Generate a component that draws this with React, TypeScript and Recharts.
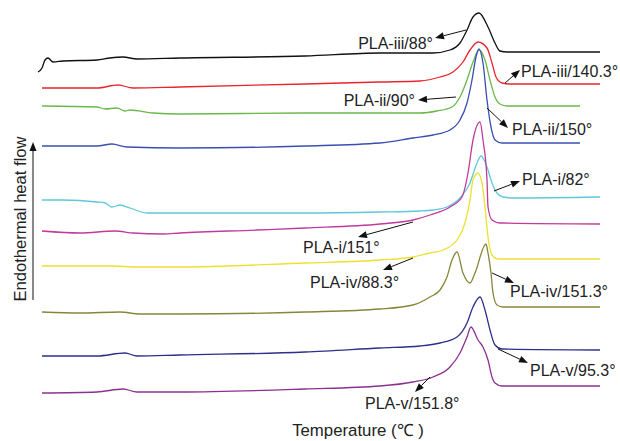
import { LineChart, Line, XAxis, YAxis, ReferenceLine, ReferenceDot } from "recharts"

// Temperature (°C) samples and heat flow (a.u., stacked offsets) for each DSC trace
const iii88Temp = [29.5, 30.5, 31.25, 32, 33.25, 35.75, 44.25, 47.5, 50.75, 54.25, 65, 96.25, 115, 128.25, 132.5, 135, 136.75, 138.25, 139.75, 142, 143.75, 145, 146.75, 170]
const iii88Flow = [36.9, 37.3, 38.1, 38.3, 37.9, 38.0, 38.1, 38.3, 38.4, 38.2, 38.3, 38.5, 38.8, 38.8, 39.1, 39.8, 41.1, 42.4, 42.8, 41.4, 39.8, 39.0, 38.9, 38.9]

const iii140Temp = [30.5, 44.25, 49.5, 53.25, 65, 96.25, 115, 125, 130, 133.25, 135.75, 137.5, 139.5, 141.75, 143, 144, 145.5, 147.5, 170]
const iii140Flow = [35.3, 35.3, 35.6, 35.3, 35.4, 35.7, 35.9, 36.0, 36.4, 36.9, 37.9, 39.1, 39.9, 39.3, 37.8, 36.4, 35.8, 35.7, 35.7]

const ii90Temp = [30.5, 44.25, 46.25, 49.25, 51.25, 52.5, 58.25, 65, 96.25, 115, 125, 129.25, 133, 135, 136.75, 138.25, 139.75, 141.25, 142.5, 143.75, 145, 146.75, 165]
const ii90Flow = [33.5, 33.4, 33.2, 33.3, 33.0, 33.1, 32.8, 32.7, 32.8, 32.8, 32.8, 33.0, 33.4, 34.4, 36.1, 37.9, 39.1, 38.1, 36.1, 34.4, 33.7, 33.5, 33.5]

const ii150Temp = [30.5, 44.25, 48, 51.75, 65, 96.25, 115, 123.25, 128.25, 132.5, 135, 136.75, 138, 139, 139.75, 140.75, 141.75, 142.75, 143.75, 145.5, 165]
const ii150Flow = [29.5, 29.5, 29.7, 29.4, 29.3, 29.5, 29.8, 30.3, 30.6, 31.1, 32.1, 33.8, 36.1, 38.4, 39.2, 37.8, 34.1, 31.4, 30.1, 29.8, 29.8]

const i82Temp = [30.5, 35.75, 44.25, 46.25, 48, 50, 52.5, 56.75, 65, 96.25, 115, 125, 128.25, 131.75, 135, 137.5, 139.25, 140.25, 141.75, 143, 144.25, 145.75, 148.25, 170]
const i82Flow = [24.1, 24.1, 23.9, 23.8, 23.4, 23.6, 23.3, 22.8, 22.8, 22.8, 22.9, 23.0, 23.1, 23.4, 24.3, 25.8, 27.8, 28.5, 27.4, 25.8, 24.8, 24.4, 24.3, 24.4]

const i151Temp = [30.5, 40, 48.75, 53.25, 60.75, 65, 84.25, 96.25, 115, 123.25, 127.5, 132.5, 135.5, 137, 138.25, 140, 140.75, 141.75, 142, 143, 145, 170]
const i151Flow = [21.0, 20.8, 21.0, 20.8, 20.7, 20.8, 21.1, 21.3, 21.7, 22.1, 22.6, 23.4, 24.4, 26.8, 30.1, 31.9, 30.1, 26.1, 23.4, 22.1, 21.8, 21.7]

const iv88Temp = [30.5, 48.25, 54.25, 65, 96.25, 115, 123.25, 127.5, 130.75, 134.25, 136.25, 137.5, 138.25, 139.5, 140.5, 141.25, 142, 143, 144.5, 170]
const iv88Flow = [17.5, 17.5, 17.4, 17.4, 17.8, 18.1, 18.4, 18.8, 19.1, 20.1, 21.8, 24.1, 26.1, 26.8, 25.8, 23.4, 20.4, 18.6, 18.2, 18.2]

const iv151Temp = [30.5, 40, 50, 55, 65, 96.25, 115, 123.25, 127.5, 130, 131.75, 133, 134.25, 135.75, 137.5, 138.75, 141.5, 142, 142.75, 143.25, 144.25, 145.75, 170]
const iv151Flow = [12.9, 12.8, 12.9, 12.7, 12.7, 12.9, 13.2, 13.6, 14.4, 15.1, 16.4, 18.1, 18.9, 16.8, 15.8, 16.8, 19.7, 18.8, 16.8, 14.8, 13.6, 13.4, 13.4]

const v95Temp = [30.5, 44.25, 51.25, 54.25, 65, 96.25, 115, 125, 130, 134.25, 136.75, 138.25, 140, 141.25, 142.5, 143.75, 145.5, 170]
const v95Flow = [8.5, 8.5, 8.8, 8.5, 8.6, 8.9, 9.3, 9.5, 9.8, 10.4, 11.8, 13.4, 14.4, 13.1, 11.1, 9.6, 9.2, 9.1]

const v151Temp = [30.5, 44.25, 50.75, 54.25, 65, 96.25, 115, 123.25, 128.25, 132.5, 135, 136.75, 137.75, 139.5, 140.75, 142, 143, 143.75, 145.5, 170]
const v151Flow = [4.8, 4.9, 5.2, 4.9, 4.9, 5.2, 5.5, 5.9, 6.4, 7.4, 8.8, 10.4, 11.4, 10.1, 9.4, 8.1, 6.4, 5.8, 5.5, 5.5]

const toRows = (temp: number[], flow: number[]) => temp.map((t, i) => ({ t, q: flow[i] }))

const traces = [
  { name: "PLA-iii/88°", color: "#111111", data: toRows(iii88Temp, iii88Flow) },
  { name: "PLA-iii/140.3°", color: "#e8262e", data: toRows(iii140Temp, iii140Flow) },
  { name: "PLA-ii/90°", color: "#6ab84a", data: toRows(ii90Temp, ii90Flow) },
  { name: "PLA-ii/150°", color: "#3a4fb0", data: toRows(ii150Temp, ii150Flow) },
  { name: "PLA-i/82°", color: "#5ec8d8", data: toRows(i82Temp, i82Flow) },
  { name: "PLA-i/151°", color: "#c23a9c", data: toRows(i151Temp, i151Flow) },
  { name: "PLA-iv/88.3°", color: "#eee030", data: toRows(iv88Temp, iv88Flow) },
  { name: "PLA-iv/151.3°", color: "#86863a", data: toRows(iv151Temp, iv151Flow) },
  { name: "PLA-v/95.3°", color: "#2c3088", data: toRows(v95Temp, v95Flow) },
  { name: "PLA-v/151.8°", color: "#8c3090", data: toRows(v151Temp, v151Flow) },
]

// callouts: arrow from the trace to the label, then label anchor
const notes = [
  { text: "PLA-iii/88°", from: [136.5, 41.1], to: [128.75, 40.3], at: [128.25, 39.2], anchor: "end" },
  { text: "PLA-iii/140.3°", from: [146.25, 35.8], to: [150, 37.1], at: [150.25, 36.4], anchor: "start" },
  { text: "PLA-ii/90°", from: [134, 34.4], to: [124.5, 34.1], at: [123.75, 33.5], anchor: "end" },
  { text: "PLA-ii/150°", from: [141.75, 33.3], to: [147, 31.3], at: [148, 30.6], anchor: "start" },
  { text: "PLA-i/82°", from: [143.5, 25.0], to: [150, 26.0], at: [150.5, 25.6], anchor: "start" },
  { text: "PLA-i/151°", from: [123.25, 21.9], to: [109.5, 20.4], at: [95.75, 18.8], anchor: "start" },
  { text: "PLA-iv/88.3°", from: [123.25, 18.3], to: [115.75, 17.1], at: [97.5, 15.3], anchor: "start" },
  { text: "PLA-iv/151.3°", from: [143, 16.8], to: [148.5, 15.8], at: [147.5, 14.4], anchor: "start" },
  { text: "PLA-v/95.3°", from: [144.5, 9.2], to: [152, 7.8], at: [152.5, 6.5], anchor: "start" },
  { text: "PLA-v/151.8°", from: [127.5, 6.4], to: [123.75, 4.9], at: [111.25, 3.2], anchor: "start" },
]

const FONT = "'Liberation Sans', Arial, sans-serif"
const INK = "#222222"

function Arrow(props: any) {
  const { x1, y1, x2, y2 } = props
  const dx = x2 - x1
  const dy = y2 - y1
  const len = Math.hypot(dx, dy) || 1
  const ux = dx / len
  const uy = dy / len
  const hl = 9
  const hw = 3.5
  const bx = x2 - ux * hl
  const by = y2 - uy * hl
  return (
    <g>
      <line x1={x1} y1={y1} x2={bx} y2={by} stroke="#111" strokeWidth={1} />
      <polygon
        points={`${x2},${y2} ${bx - uy * hw},${by + ux * hw} ${bx + uy * hw},${by - ux * hw}`}
        fill="#111"
      />
    </g>
  )
}

const label = (text: string, anchor: string, size = 16, rotate = false) => (p: any) => (
  <text
    x={p.cx}
    y={p.cy}
    textAnchor={anchor}
    fontSize={size}
    fontFamily={FONT}
    fill={INK}
    transform={rotate ? `rotate(-90 ${p.cx} ${p.cy})` : undefined}
  >
    {text}
  </text>
)

export default function App() {
  return (
    <div style={{ position: "absolute", left: 0, top: 0, width: 620, height: 441, background: "#fff" }}>
      <LineChart width={620} height={441} margin={{ top: 0, right: 0, bottom: 0, left: 0 }}>
        <XAxis type="number" dataKey="t" domain={[20, 175]} allowDataOverflow hide />
        <YAxis type="number" domain={[0, 44.1]} allowDataOverflow hide />
        {traces.map((tr) => (
          <Line
            key={tr.name}
            data={tr.data}
            dataKey="q"
            name={tr.name}
            type="monotone"
            stroke={tr.color}
            strokeWidth={1.3}
            dot={false}
            activeDot={false}
            isAnimationActive={false}
          />
        ))}
        {notes.map((n) => (
          <ReferenceLine
            key={`arrow-${n.text}`}
            segment={[
              { x: n.from[0], y: n.from[1] },
              { x: n.to[0], y: n.to[1] },
            ]}
            shape={Arrow}
            ifOverflow="visible"
          />
        ))}
        {notes.map((n) => (
          <ReferenceDot
            key={`label-${n.text}`}
            x={n.at[0]}
            y={n.at[1]}
            r={0}
            shape={label(n.text, n.anchor)}
            ifOverflow="visible"
          />
        ))}
        {/* axis captions */}
        <ReferenceLine
          segment={[
            { x: 28.25, y: 14.1 },
            { x: 28.25, y: 29.9 },
          ]}
          shape={Arrow}
          ifOverflow="visible"
        />
        <ReferenceDot x={26.5} y={22.2} r={0} shape={label("Endothermal heat flow", "middle", 16.6, true)} ifOverflow="visible" />
        <ReferenceDot x={109.5} y={0.5} r={0} shape={label("Temperature (℃ )", "middle", 16.8)} ifOverflow="visible" />
      </LineChart>
    </div>
  )
}
